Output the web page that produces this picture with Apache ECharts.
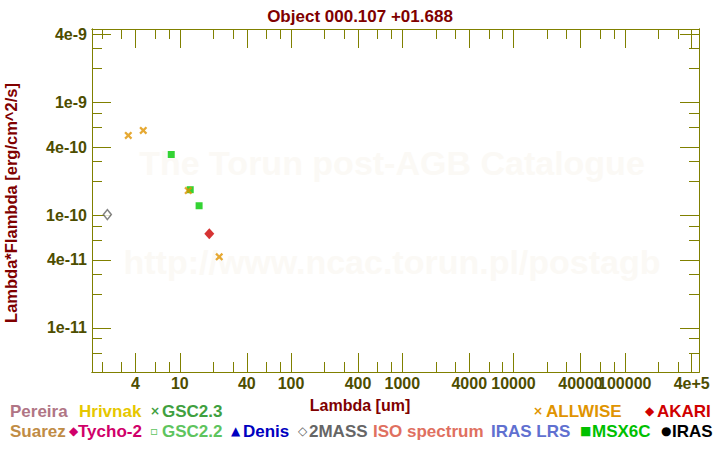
<!DOCTYPE html>
<html><head><meta charset="utf-8">
<script src="https://cdn.jsdelivr.net/npm/echarts@6/dist/echarts.min.js"></script>
<style>html,body{margin:0;padding:0;background:#fff}#c{width:720px;height:450px}</style>
</head><body><div id="c"></div>
<script>
// ---- data (wavelength in um, lambda*F_lambda in erg/cm^2/s) ----
const allwiseX = [3.44, 4.69, 11.9, 22.6];
const allwiseY = [5.09e-10, 5.64e-10, 1.65e-10, 4.26e-11];
const msxX = [8.37, 12.4, 14.9];
const msxY = [3.45e-10, 1.68e-10, 1.21e-10];
const akariX = [18.4];
const akariY = [6.83e-11];
const twomassX = [2.23];
const twomassY = [1.01e-10];

// ---- axis ranges & ticks ----
const X_MIN = 1.623, X_MAX = 4.65e5;
const Y_MIN = 4.05e-12, Y_MAX = 4.48e-9;
const xMajorTicks = [4, 10, 40, 100, 400, 1000, 4000, 10000, 40000, 100000, 400000];
const xTickLabels = ['4', '10', '40', '100', '400', '1000', '4000', '10000', '40000', '100000', '4e+5'];
const xMinorTicks = [2, 3, 6, 8, 20, 30, 60, 80, 200, 300, 600, 800, 2000, 3000, 6000, 8000,
  20000, 30000, 60000, 80000, 200000, 300000];
const yMajorTicks = [4e-9, 1e-9, 4e-10, 1e-10, 4e-11, 1e-11];
const yTickLabels = ['4e-9', '1e-9', '4e-10', '1e-10', '4e-11', '1e-11'];
const yMinorTicks = [3e-9, 2e-9, 8e-10, 6e-10, 3e-10, 2e-10, 8e-11, 6e-11, 3e-11, 2e-11, 8e-12, 6e-12];

const FONT = '"Liberation Sans", Arial, sans-serif';
const OLIVE = '#808000';
const LABEL = '#4d4d00';
const L = Math.log10;

function zip(xs, ys) { return xs.map((x, i) => [x, ys[i]]); }
function labelFor(ticks, labels) {
  return function (v) {
    let best = 0, d = Infinity;
    ticks.forEach((t, i) => { const dd = Math.abs(L(t) - v); if (dd < d) { d = dd; best = i; } });
    return labels[best];
  };
}

function overlayX(position, ticks, len, withLabels) {
  return {
    type: 'value', position: position, min: L(X_MIN), max: L(X_MAX),
    axisLine: { show: true, onZero: false, lineStyle: { color: OLIVE, width: 1 } },
    axisTick: { show: true, inside: true, length: len, customValues: ticks.map(L), lineStyle: { color: OLIVE, width: 1 } },
    axisLabel: withLabels ? {
      show: true, customValues: ticks.map(L), formatter: labelFor(xMajorTicks, xTickLabels),
      color: LABEL, fontWeight: 'bold', fontSize: 16, fontFamily: FONT, margin: 3
    } : { show: false },
    splitLine: { show: false }
  };
}
function overlayY(position, ticks, len, withLabels) {
  return {
    type: 'value', position: position, min: L(Y_MIN), max: L(Y_MAX),
    axisLine: { show: true, onZero: false, lineStyle: { color: OLIVE, width: 1 } },
    axisTick: { show: true, inside: true, length: len, customValues: ticks.map(L), lineStyle: { color: OLIVE, width: 1 } },
    axisLabel: withLabels ? {
      show: true, customValues: ticks.map(L), formatter: labelFor(yMajorTicks, yTickLabels),
      color: LABEL, fontWeight: 'bold', fontSize: 16, fontFamily: FONT, margin: 5
    } : { show: false },
    splitLine: { show: false }
  };
}

const crossPath = 'path://M0,2L2,0L5,3L8,0L10,2L7,5L10,8L8,10L5,7L2,10L0,8L3,5Z';

// legend entries: [text, color, marker]
const legendRow1 = [
  ['Pereira', '#b07585', ''], ['Hrivnak', '#e6c700', ''], ['GSC2.3', '#3fa03f', '\u00d7'],
  ['ALLWISE', '#e09400', '\u00d7'], ['AKARI', '#d00000', '\u25c6']
];
const legendRow2 = [
  ['Suarez', '#c08c45', ''], ['Tycho-2', '#d0006a', '\u25c6'], ['GSC2.2', '#5ec45e', '\u25ab'],
  ['Denis', '#0000c0', '\u25b2'], ['2MASS', '#666666', '\u25c7'], ['ISO spectrum', '#e07060', ''],
  ['IRAS LRS', '#6070d0', ''], ['MSX6C', '#00c000', '\u25a0'], ['IRAS', '#000000', '\u25cf']
];
const row1X = [10, 79, 150, 533, 645];
const row2X = [10, 69, 150, 231, 298, 373, 491, 580, 661];
const row1TextX = [10, 79, 162, 546, 657];
const row2TextX = [10, 78, 162, 243, 309, 373, 491, 592, 672];

const graphics = [];
function addRow(items, mx, tx, y) {
  items.forEach((it, i) => {
    if (it[2]) graphics.push({ type: 'text', x: mx[i], y: y, z: 5,
      style: { text: it[2], fill: it[1], font: 'bold 12px "DejaVu Sans", sans-serif', align: 'left', verticalAlign: 'middle' } });
    graphics.push({ type: 'text', x: tx[i], y: y, z: 5,
      style: { text: it[0], fill: it[1], font: 'bold 17px ' + FONT, align: 'left', verticalAlign: 'middle' } });
  });
}
addRow(legendRow1, row1X, row1TextX, 411);
addRow(legendRow2, row2X, row2TextX, 431);

// watermark
graphics.push({ type: 'text', x: 392, y: 163, z: 0, silent: true,
  style: { text: 'The Torun post-AGB Catalogue', fill: '#fbf9f5', font: 'bold 34px ' + FONT, align: 'center', verticalAlign: 'middle' } });
graphics.push({ type: 'text', x: 392, y: 262, z: 0, silent: true,
  style: { text: 'http://www.ncac.torun.pl/postagb', fill: '#fbf9f5', font: 'bold 34px ' + FONT, align: 'center', verticalAlign: 'middle' } });
// axis titles
graphics.push({ type: 'text', x: 360, y: 405, z: 5,
  style: { text: 'Lambda [um]', fill: '#800000', font: 'bold 16px ' + FONT, align: 'center', verticalAlign: 'middle' } });
graphics.push({ type: 'text', x: 11, y: 203, z: 5, rotation: Math.PI / 2,
  style: { text: 'Lambda*Flambda [erg/cm^2/s]', fill: '#800000', font: 'bold 16.5px ' + FONT, align: 'center', verticalAlign: 'middle' } });

const chart = echarts.init(document.getElementById('c'), null, { renderer: 'svg' });
chart.setOption({
  backgroundColor: '#ffffff',
  animation: false,
  title: {
    text: 'Object 000.107 +01.688', left: 'center', top: 3,
    textStyle: { color: '#800000', fontSize: 17, fontWeight: 'bold', fontFamily: FONT }
  },
  grid: { left: 92, right: 21, top: 29, bottom: 78, containLabel: false },
  xAxis: [
    { type: 'log', logBase: 10, min: X_MIN, max: X_MAX, show: false },
    overlayX('bottom', xMajorTicks, 19, true),
    overlayX('bottom', xMinorTicks, 10, false),
    overlayX('top', xMajorTicks, 19, false),
    overlayX('top', xMinorTicks, 10, false)
  ],
  yAxis: [
    { type: 'log', logBase: 10, min: Y_MIN, max: Y_MAX, show: false },
    overlayY('left', yMajorTicks, 19, true),
    overlayY('left', yMinorTicks, 10, false),
    overlayY('right', yMajorTicks, 19, false),
    overlayY('right', yMinorTicks, 10, false)
  ],
  graphic: graphics,
  series: [
    { name: '2MASS', type: 'scatter', xAxisIndex: 0, yAxisIndex: 0, data: zip(twomassX, twomassY),
      symbol: 'diamond', symbolSize: [8, 10], itemStyle: { color: '#ffffff', borderColor: '#666666', borderWidth: 1.5 }, z: 3 },
    { name: 'MSX6C', type: 'scatter', xAxisIndex: 0, yAxisIndex: 0, data: zip(msxX, msxY),
      symbol: 'rect', symbolSize: 7, itemStyle: { color: '#00c800' }, z: 3 },
    { name: 'AKARI', type: 'scatter', xAxisIndex: 0, yAxisIndex: 0, data: zip(akariX, akariY),
      symbol: 'diamond', symbolSize: [10, 11], itemStyle: { color: '#cc0000' }, z: 3 },
    { name: 'ALLWISE', type: 'scatter', xAxisIndex: 0, yAxisIndex: 0, data: zip(allwiseX, allwiseY),
      symbol: crossPath, symbolSize: 8, itemStyle: { color: '#e09400' }, z: 4 }
  ]
});
</script>
</body></html>
